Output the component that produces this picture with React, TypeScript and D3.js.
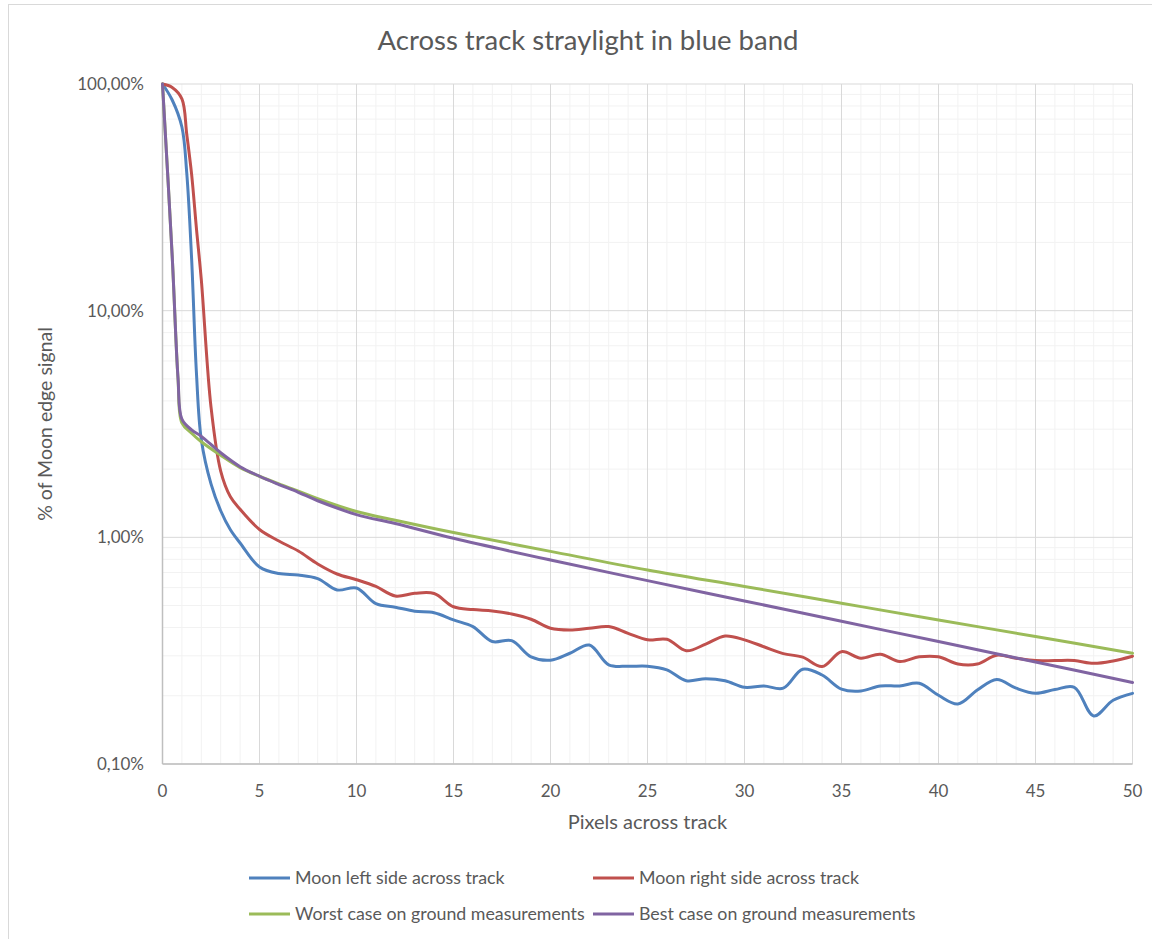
import React from "react";
import * as d3 from "d3";

// Pixels across track (x) and % of Moon edge signal (y) for each series
const leftX = [0, 0.5, 1, 1.25, 1.5, 1.75, 2, 2.5, 3, 3.5, 4, 5, 6, 7, 8, 9, 10, 11, 12, 13, 14, 15, 16, 17, 18, 19, 20, 21, 22, 23, 24, 25, 26, 27, 28, 29, 30, 31, 32, 33, 34, 35, 36, 37, 38, 39, 40, 41, 42, 43, 44, 45, 46, 47, 48, 49, 50];
const leftY = [100, 85, 64.6, 40.5, 17, 5.3, 2.7, 1.72, 1.31, 1.08, 0.944, 0.74, 0.692, 0.682, 0.658, 0.586, 0.598, 0.51, 0.492, 0.472, 0.465, 0.432, 0.404, 0.347, 0.35, 0.297, 0.287, 0.308, 0.335, 0.274, 0.27, 0.27, 0.26, 0.233, 0.238, 0.233, 0.218, 0.221, 0.216, 0.262, 0.247, 0.214, 0.21, 0.221, 0.221, 0.227, 0.201, 0.184, 0.212, 0.236, 0.216, 0.205, 0.213, 0.218, 0.163, 0.191, 0.205];

const rightX = [0, 0.5, 1, 1.25, 1.5, 1.75, 2, 2.5, 3, 3.5, 4, 5, 6, 7, 8, 9, 10, 11, 12, 13, 14, 15, 16, 17, 18, 19, 20, 21, 22, 23, 24, 25, 26, 27, 28, 29, 30, 31, 32, 33, 34, 35, 36, 37, 38, 39, 40, 41, 42, 43, 44, 45, 46, 47, 48, 49, 50];
const rightY = [100, 96.6, 86, 60, 40, 23, 13.7, 3.76, 1.96, 1.51, 1.33, 1.083, 0.963, 0.87, 0.763, 0.689, 0.65, 0.607, 0.551, 0.566, 0.565, 0.494, 0.48, 0.473, 0.459, 0.435, 0.397, 0.39, 0.397, 0.404, 0.377, 0.353, 0.355, 0.316, 0.338, 0.367, 0.353, 0.329, 0.307, 0.296, 0.269, 0.313, 0.293, 0.305, 0.283, 0.297, 0.297, 0.276, 0.276, 0.302, 0.293, 0.286, 0.286, 0.286, 0.278, 0.285, 0.299];

const worstX = [0, 0.5, 0.8, 1, 1.5, 2, 3, 4, 5, 6, 7, 8, 10, 12, 15, 20, 25, 30, 35, 40, 45, 50];
const worstY = [100, 17.4, 5.0, 3.2, 2.88, 2.64, 2.3, 2.03, 1.86, 1.72, 1.6, 1.48, 1.3, 1.19, 1.05, 0.867, 0.718, 0.607, 0.512, 0.432, 0.365, 0.308];

const bestX = [0, 0.5, 0.8, 1, 1.5, 2, 3, 4, 5, 6, 7, 8, 10, 12, 15, 20, 25, 30, 35, 40, 45, 50];
const bestY = [100, 17.4, 5.05, 3.32, 2.98, 2.79, 2.36, 2.05, 1.86, 1.71, 1.58, 1.45, 1.26, 1.15, 0.99, 0.794, 0.644, 0.524, 0.426, 0.347, 0.282, 0.229];

const seriesNames = [
  "Moon left side across track",
  "Moon right side across track",
  "Worst case on ground measurements",
  "Best case on ground measurements",
];
const seriesColors = ["#4F81BD", "#C0504D", "#9BBB59", "#8064A2"];
const seriesX = [leftX, rightX, worstX, bestX];
const seriesY = [leftY, rightY, worstY, bestY];

const xTicks = [0, 5, 10, 15, 20, 25, 30, 35, 40, 45, 50];
const yTicks = [0.1, 1, 10, 100];
const yTickLabels = ["0,10%", "1,00%", "10,00%", "100,00%"];

const title = "Across track straylight in blue band";
const xTitle = "Pixels across track";
const yTitle = "% of Moon edge signal";

const FONT = "Lato, 'Open Sans', sans-serif";
const TEXT = "#595959";

export default function App() {
  const W = 1152;
  const H = 939;
  const plot = { left: 162.5, right: 1132.5, top: 84, bottom: 764 };

  const x = d3.scaleLinear().domain([0, 50]).range([plot.left, plot.right]);
  const y = d3.scaleLog().domain([0.1, 100]).range([plot.bottom, plot.top]);

  const minorX = d3.range(0, 51).filter((v) => v % 5 !== 0);
  const minorY: number[] = [];
  [0.1, 1, 10].forEach((d) => {
    for (let m = 2; m <= 9; m++) minorY.push(m * d);
  });

  const line = d3
    .line<[number, number]>()
    .x((d) => x(d[0]))
    .y((d) => y(d[1]))
    .curve(d3.curveCatmullRom.alpha(0.5));

  const legendRows = [
    { sx: 249, y: 878 },
    { sx: 593, y: 878 },
    { sx: 249, y: 914 },
    { sx: 593, y: 914 },
  ];

  return (
    <svg
      width={W}
      height={H}
      style={{ position: "absolute", left: 0, top: 0, background: "#fff" }}
      fontFamily={FONT}
    >
      <rect x={0} y={0} width={W} height={H} fill="#fff" />
      {/* chart area border */}
      <rect x={8.5} y={4.5} width={1200} height={1000} fill="none" stroke="#d9d9d9" strokeWidth={1} />

      <text x={588} y={50} textAnchor="middle" fontSize={27.5} fill={TEXT}>
        {title}
      </text>

      {/* minor gridlines */}
      {minorX.map((v) => (
        <line key={"mx" + v} x1={x(v)} x2={x(v)} y1={plot.top} y2={plot.bottom} stroke="#f2f2f2" strokeWidth={1} />
      ))}
      {minorY.map((v) => (
        <line key={"my" + v} x1={plot.left} x2={plot.right} y1={y(v)} y2={y(v)} stroke="#f2f2f2" strokeWidth={1} />
      ))}
      {/* major gridlines */}
      {xTicks.map((v) => (
        <line key={"gx" + v} x1={x(v)} x2={x(v)} y1={plot.top} y2={plot.bottom} stroke="#d9d9d9" strokeWidth={1} />
      ))}
      {yTicks.map((v) => (
        <line key={"gy" + v} x1={plot.left} x2={plot.right} y1={y(v)} y2={y(v)} stroke="#d9d9d9" strokeWidth={1} />
      ))}
      {/* axis lines */}
      <line x1={plot.left} x2={plot.left} y1={plot.top} y2={plot.bottom} stroke="#bfbfbf" strokeWidth={1.5} />
      <line x1={plot.left} x2={plot.right} y1={plot.bottom} y2={plot.bottom} stroke="#bfbfbf" strokeWidth={1.5} />

      {/* tick labels */}
      {xTicks.map((v) => (
        <text key={"tx" + v} x={x(v)} y={797} textAnchor="middle" fontSize={17} fill={TEXT}>
          {v}
        </text>
      ))}
      {yTicks.map((v, i) => (
        <text key={"ty" + v} x={144} y={y(v) + 6} textAnchor="end" fontSize={17} fill={TEXT}>
          {yTickLabels[i]}
        </text>
      ))}

      {/* axis titles */}
      <text x={647.5} y={829} textAnchor="middle" fontSize={20} fill={TEXT}>
        {xTitle}
      </text>
      <text transform={`translate(52,${(plot.top + plot.bottom) / 2}) rotate(-90)`} textAnchor="middle" fontSize={19.5} fill={TEXT}>
        {yTitle}
      </text>

      {/* series */}
      <g clipPath="url(#plotClip)">
        {seriesNames.map((name, i) => {
          const pts = seriesX[i].map((v, j) => [v, seriesY[i][j]] as [number, number]);
          return (
            <path
              key={name}
              d={line(pts) || ""}
              fill="none"
              stroke={seriesColors[i]}
              strokeWidth={3}
              strokeLinejoin="round"
              strokeLinecap="round"
            />
          );
        })}
      </g>
      <defs>
        <clipPath id="plotClip">
          <rect x={plot.left - 2} y={plot.top - 3} width={plot.right - plot.left + 4} height={plot.bottom - plot.top + 4} />
        </clipPath>
      </defs>

      {/* legend */}
      {seriesNames.map((name, i) => (
        <g key={"lg" + name}>
          <line x1={legendRows[i].sx} x2={legendRows[i].sx + 41} y1={legendRows[i].y} y2={legendRows[i].y} stroke={seriesColors[i]} strokeWidth={3} />
          <text x={legendRows[i].sx + 46} y={legendRows[i].y + 6} fontSize={17.8} fill={TEXT}>
            {name}
          </text>
        </g>
      ))}
    </svg>
  );
}
